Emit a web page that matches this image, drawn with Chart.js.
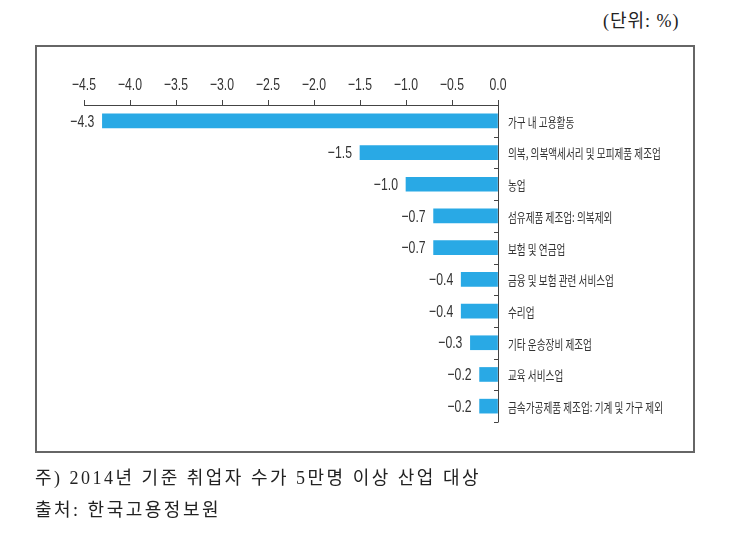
<!DOCTYPE html>
<html>
<head>
<meta charset="utf-8">
<script src="https://cdn.jsdelivr.net/npm/chart.js@4.4.1/dist/chart.umd.min.js"></script>
<style>
  body{ margin:0; background:#fff; width:737px; height:534px; overflow:hidden; position:relative; }
  #box{ position:absolute; left:35px; top:45px; width:656px; height:404px; border:2px solid #666; }
  #chart{ position:absolute; left:0; top:0; }
  .note{ position:absolute; left:35px; font-family:"Liberation Serif","Noto Sans CJK KR",serif; font-size:18px; color:#222; white-space:nowrap; }
  #unit{ position:absolute; left:603px; top:6px; font-family:"Liberation Serif","Noto Sans CJK KR",serif; font-size:18px; letter-spacing:1px; color:#222; }
</style>
</head>
<body>
<div id="unit">(단위: %)</div>
<div id="box"></div>
<canvas id="chart" width="737" height="534"></canvas>
<div class="note" style="top:463px;letter-spacing:2.5px">주) 2014년 기준 취업자 수가 5만명 이상 산업 대상</div>
<div class="note" style="top:495px;letter-spacing:2.5px">출처: 한국고용정보원</div>

<script>
/* ------- DATA ------- */
const industries = [
  "가구 내 고용활동",
  "의복, 의복액세서리 및 모피제품 제조업",
  "농업",
  "섬유제품 제조업: 의복제외",
  "보험 및 연금업",
  "금융 및 보험 관련 서비스업",
  "수리업",
  "기타 운송장비 제조업",
  "교육 서비스업",
  "금속가공제품 제조업: 기계 및 가구 제외"
];
const changes = [-4.3, -1.5, -1.0, -0.7, -0.7, -0.4, -0.4, -0.3, -0.2, -0.2];
const xMin = -4.5, xMax = 0, xStep = 0.5;

const BLUE = "#29a9e5";
const NUMFONT = "17px 'Liberation Sans', sans-serif";

function fmt(v){
  const s = Math.abs(v).toFixed(1);
  return v < 0 ? "\u2212" + s : s;
}

// narrow text: squeeze horizontally around the anchor
function narrowText(ctx, text, x, y, sx){
  ctx.save();
  ctx.translate(x, y);
  ctx.scale(sx, 1);
  ctx.fillText(text, 0, 0);
  ctx.restore();
}

/* ------- labels: ticks on top, values left of bars, names right of zero line ------- */
const labelPlugin = {
  id: "labels",
  afterDatasetsDraw(chart){
    const ctx = chart.ctx;
    const meta = chart.getDatasetMeta(0);
    const y = chart.scales.y, x = chart.scales.x;
    const x0 = x.getPixelForValue(0);

    ctx.save();
    ctx.fillStyle = "#333";
    ctx.font = NUMFONT;
    ctx.textBaseline = "middle";

    // x tick labels
    ctx.textAlign = "center";
    x.ticks.forEach(t=>{
      narrowText(ctx, fmt(t.value), x.getPixelForValue(t.value), 85, 0.72);
    });

    // value labels
    ctx.textAlign = "right";
    meta.data.forEach((bar, i)=>{
      narrowText(ctx, fmt(changes[i]), bar.x - 8, bar.y + 1, 0.72);
    });

    // category names, condensed
    ctx.font = "13px 'Noto Sans CJK KR', sans-serif";
    ctx.textAlign = "left";
    industries.forEach((name, i)=>{
      narrowText(ctx, name, x0 + 10, y.getPixelForValue(i) + 1, 0.74);
    });

    // zero line with small ticks to the left
    const half = (y.getPixelForValue(1) - y.getPixelForValue(0)) / 2;
    ctx.strokeStyle = "#444";
    ctx.lineWidth = 1;
    ctx.beginPath();
    ctx.moveTo(x0 + 0.5, chart.chartArea.top);
    ctx.lineTo(x0 + 0.5, chart.chartArea.bottom);
    for(let i = 0; i < industries.length; i++){
      const py = Math.round(y.getPixelForValue(i) + half) + 0.5;
      ctx.moveTo(x0 - 4, py);
      ctx.lineTo(x0 + 0.5, py);
    }
    ctx.stroke();
    ctx.restore();
  }
};

new Chart(document.getElementById("chart"), {
  type: "bar",
  data: {
    labels: industries,
    datasets: [{
      data: changes,
      backgroundColor: BLUE,
      borderWidth: 0,
      barThickness: 14
    }]
  },
  options: {
    indexAxis: "y",
    responsive: false,
    animation: false,
    layout: { padding: { left: 84, top: 0, bottom: 112, right: 0 } },
    plugins: { legend: { display: false }, tooltip: { enabled: false } },
    scales: {
      x: {
        position: "top",
        min: xMin, max: xMax,
        ticks: { stepSize: xStep, display: false },
        grid: { drawOnChartArea: false, tickLength: 5, color: "#444" },
        border: { color: "#444" },
        afterFit: s => { s.height = 105; }
      },
      y: {
        position: "right",
        ticks: { display: false },
        grid: { display: false },
        border: { display: false },
        afterFit: s => { s.width = 239; }
      }
    }
  },
  plugins: [labelPlugin]
});
</script>
</body>
</html>
